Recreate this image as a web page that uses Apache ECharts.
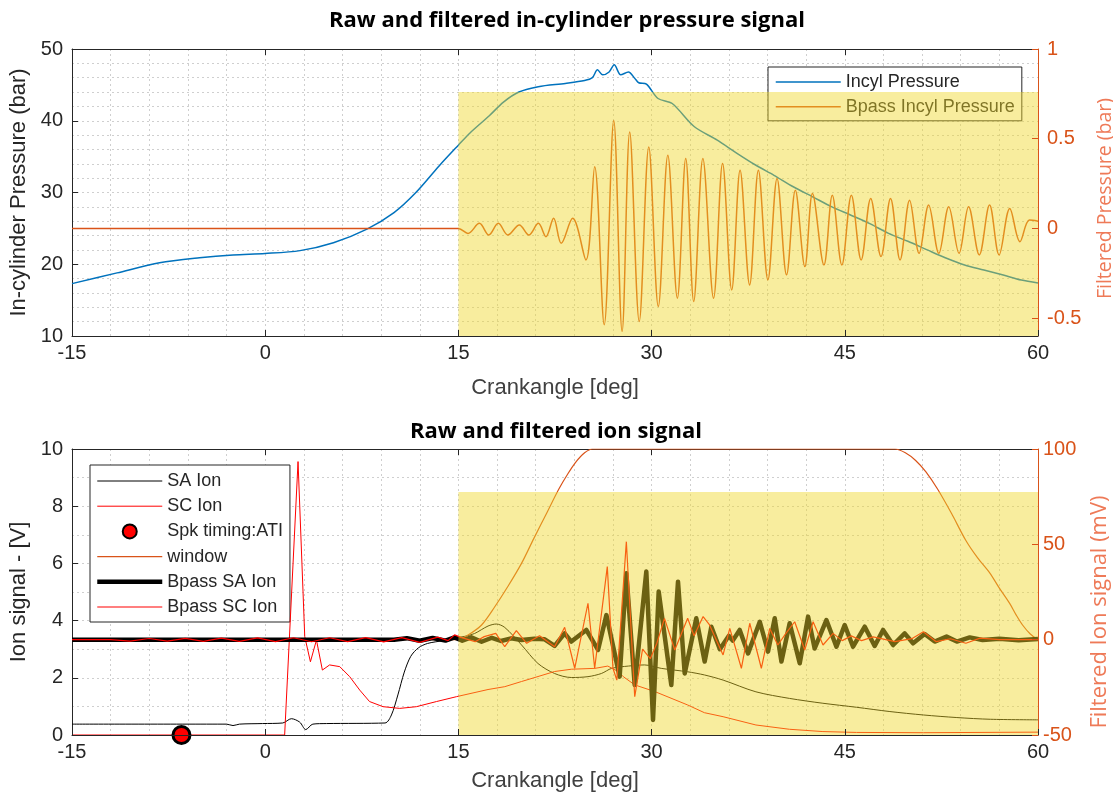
<!DOCTYPE html>
<html>
<head>
<meta charset="utf-8">
<script src="https://cdn.jsdelivr.net/npm/echarts@6/dist/echarts.min.js"></script>
<style>
  html, body { margin: 0; padding: 0; background: #ffffff; }
  #chart { width: 1113px; height: 799px; }
</style>
</head>
<body>
<div id="chart"></div>
<script>
// ---- crank angle axis ----
const crankMin = -15;
const crankMax = 60;
const crankStep = 15;

// ---- raw in-cylinder pressure [deg, bar] ----
const incylPressure = [
  [-15, 17.3], [-11.5, 18.8], [-8.2, 20.2], [-5.1, 20.9], [-2.5, 21.3], [0, 21.5],
  [2.7, 21.9], [5.3, 23.0], [7.9, 24.9], [10, 27.2], [11.7, 30.0], [13.5, 33.7],
  [15, 36.6], [15.9, 38.3], [17.4, 40.7], [18.5, 42.6], [19.7, 44.0], [21.2, 44.75],
  [23.3, 45.2], [24.8, 45.6], [25.4, 46.0], [25.8, 47.1], [26.2, 46.4], [26.7, 46.8],
  [27.1, 47.8], [27.6, 46.4], [28.2, 46.8], [28.7, 45.9], [29.0, 45.3], [29.6, 45.1],
  [30.5, 43.1], [31.6, 42.4], [33.3, 39.2], [35.1, 37.3], [36.6, 35.5], [38.1, 33.8],
  [39.5, 32.4], [41.0, 30.8], [42.5, 29.4], [44.0, 28.0], [45.4, 26.9], [46.9, 25.7],
  [48.4, 24.3], [49.9, 23.2], [51.4, 22.0], [52.8, 20.9], [54.3, 19.9], [55.8, 19.2],
  [57.3, 18.5], [58.7, 17.8], [60, 17.4]
];

// ---- band-pass filtered pressure [deg, bar] ----
const bpassIncylPressure = [
  [-15, 0], [15, 0], [15.74, -0.028], [16.63, 0.028], [17.36, -0.037], [18.10, 0.028],
  [18.84, -0.037], [19.73, 0.019], [20.47, -0.037], [21.21, 0.028], [21.80, -0.046],
  [22.39, 0.056], [22.98, -0.083], [23.87, 0.056], [24.90, -0.176], [25.58, 0.343],
  [26.32, -0.537], [27.06, 0.602], [27.71, -0.574], [28.30, 0.537], [29.04, -0.519],
  [29.78, 0.454], [30.52, -0.435], [31.26, 0.407], [32.00, -0.389], [32.65, 0.389],
  [33.27, -0.407], [33.98, 0.389], [34.81, -0.389], [35.51, 0.361], [36.22, -0.343],
  [36.87, 0.324], [37.61, -0.315], [38.29, 0.324], [39.03, -0.287], [39.74, 0.278],
  [40.48, -0.259], [41.16, 0.213], [41.90, -0.213], [42.49, 0.194], [43.38, -0.204],
  [44.03, 0.185], [44.77, -0.204], [45.51, 0.185], [46.27, -0.176], [47.01, 0.167],
  [47.81, -0.157], [48.55, 0.167], [49.29, -0.176], [50.03, 0.157], [50.77, -0.139],
  [51.51, 0.130], [52.30, -0.139], [53.07, 0.120], [53.87, -0.139], [54.61, 0.120],
  [55.44, -0.148], [56.24, 0.130], [56.98, -0.148], [57.81, 0.111], [58.60, -0.074],
  [59.34, 0.046], [60, 0.04]
];

// ---- raw ion signals [deg, V] ----
const saIon = [
  [-15, 0.38], [-3.0, 0.38], [-2.5, 0.33], [-2.0, 0.38], [-0.2, 0.40], [1.36, 0.42],
  [2.03, 0.57], [2.68, 0.45], [3.15, 0.19], [3.7, 0.38], [4.75, 0.40], [9.3, 0.42],
  [9.8, 0.7], [10.3, 1.4], [10.8, 2.2], [11.3, 2.75], [11.9, 3.05], [12.6, 3.2],
  [13.8, 3.3], [14.85, 3.4], [15.5, 3.45], [16.26, 3.55], [17.3, 3.81], [17.94, 3.88],
  [18.6, 3.76], [19.9, 3.15], [21.18, 2.5], [22.47, 2.15], [23.77, 2.01], [25.06, 2.04],
  [26.1, 2.15], [26.9, 2.33], [28.2, 2.41], [29.46, 2.45], [30.75, 2.33], [32.8, 2.21],
  [34.1, 2.1], [35.55, 1.92], [38.1, 1.51], [40.7, 1.28], [43.3, 1.11], [45.9, 0.97],
  [48.5, 0.82], [51.1, 0.70], [53.7, 0.61], [56.3, 0.55], [60, 0.53]
];

const scIon = [
  [-15, 0], [1.51, 0], [2.55, 9.56], [3.07, 3.44], [3.51, 2.56], [3.98, 3.32],
  [4.44, 2.27], [5.0, 2.45], [5.79, 2.39], [6.56, 2.04], [7.34, 1.57], [8.1, 1.17],
  [9.15, 0.99], [10.44, 0.93], [11.74, 0.99], [13.3, 1.17], [14.85, 1.34], [17.3, 1.59],
  [18.6, 1.69], [19.9, 1.87], [22.47, 2.22], [23.77, 2.30], [25.6, 2.33], [26.6, 2.41],
  [27.4, 2.22], [27.8, 2.04], [28.7, 1.75], [30.24, 1.52], [32.8, 1.05], [34.1, 0.78],
  [35.55, 0.64], [38.1, 0.35], [40.7, 0.2], [43.3, 0.12], [45.9, 0.09], [51.1, 0.08],
  [60, 0.1]
];

// ---- spark timing [deg, V] ----
const spkTiming = [[-6.5, 0]];

// ---- analysis window [deg, mV] ----
const ionWindow = [
  [-15, 0], [15, 0], [15.75, 2.4], [16.8, 7.7], [17.8, 17], [18.85, 28], [19.9, 40],
  [20.85, 53], [21.9, 67], [22.8, 79], [23.5, 87], [24.1, 93], [24.8, 98], [25.4, 100],
  [48.9, 100], [49.7, 98], [50.5, 94], [51.3, 88], [52.2, 79], [53.3, 66], [54.4, 52],
  [55.3, 43], [56.25, 35], [57.0, 27], [57.8, 19], [58.3, 13], [58.8, 7.7], [59.4, 3],
  [60, 0]
];

// ---- band-pass filtered ion signals [deg, mV] ----
const bpassSaIon = [
  [-15, 0], [10, 0], [11, 0.8], [12, -0.6], [13, 0.9], [14, -0.5], [14.7, 1.2],
  [15.3, -0.5], [16.0, 1.2], [16.8, -1.1], [17.6, 1.0], [18.3, -0.7], [19.1, 0.7],
  [19.9, -0.2], [20.9, 0.5], [21.7, 0.2], [22.47, -3.3], [23.25, 3.3], [23.77, -1.0],
  [24.93, 5.1], [25.84, -5.4], [26.49, 12.9], [27.52, -19.4], [28.04, 34.8],
  [28.69, -23.8], [29.59, 35.7], [30.11, -42.1], [30.55, 25.2], [31.53, -23.8],
  [32.05, 30.4], [32.57, -17.7], [33.47, 11.2], [34.12, -11.5], [34.64, 6.8],
  [35.3, -5.0], [36.0, 2.0], [36.3, -0.5], [36.84, 5.1], [37.49, -7.2], [38.4, 9.4],
  [39.04, -6.3], [39.56, 11.2], [40.08, -11.5], [40.72, 8.6], [41.5, -12.4],
  [42.15, 12.1], [42.66, -4.6], [43.57, 10.3], [44.35, -3.7], [44.99, 7.7],
  [45.64, -3.7], [46.55, 6.8], [47.32, -3.3], [47.97, 5.1], [48.75, -2.8],
  [49.65, 3.3], [50.3, -1.9], [51.2, 3.0], [51.98, -1.0], [52.9, 1.6], [53.7, -1.0],
  [54.7, 1.2], [55.7, -0.2], [57, 0.5], [58.5, -0.3], [60, 0.3]
];

const bpassScIon = [
  [-15, 0], [-12, 0], [-10.5, -0.8], [-9, 0.6], [-7.6, -0.8], [-6.2, 0.7], [-4.8, -0.9],
  [-3.4, 0.8], [-2, -0.9], [-0.6, 0.9], [0.8, -1.0], [2.2, 1.0], [3.6, -1.1], [5, 1.0],
  [6.4, -1.0], [7.8, 1.1], [9.2, -1.2], [10.6, 1.1], [12, -1.4], [13.4, 1.3],
  [14.2, -0.5], [14.7, 2.5], [15.2, 1.2], [16.3, -1.05], [17.0, 1.6], [17.9, 3.3],
  [18.6, -3.7], [19.5, 4.7], [20.3, -1.9], [21.3, 2.0], [22.47, -3.7], [23.25, 6.5],
  [24.03, -15.0], [25.06, 19.1], [25.58, -15.0], [26.56, 38.3], [27.0, -15.0],
  [27.3, -21.2], [28.04, 51.4], [28.69, -29.9], [29.3, -5], [29.9, -10], [30.4, -2],
  [31.0, 11.2], [31.8, -5.4], [32.8, 11.2], [33.3, 2], [34.0, 12.1], [34.5, 7.7],
  [35.55, -8.0], [36.07, 5.9], [36.97, -15.0], [37.62, 8.6], [38.52, -15.0],
  [39.17, 5.9], [39.8, -2.8], [40.4, 3.0], [41.11, 9.4], [41.89, -5.4], [42.54, 9.4],
  [43.31, -2.8], [44.09, 3.3], [44.8, -0.5], [45.5, 2.0], [46.3, -0.5], [47.2, 1.5],
  [48.9, -1.05], [50.2, 0.5], [51.1, 4.2], [52.1, -1.05], [53.2, 0.5], [54.4, -1.9],
  [55.5, 0.8], [57, 0], [60, 0]
];

// ---- highlighted analysis region ----
const shadeCrank = [15, 60];
const shadePressure = [10, 44];
const shadeIon = [0, 8.5];

// ---- styling ----
const AXIS_DARK = '#262626';
const ORANGE = '#D95319';
const ORANGE_NAME = '#EE7A58';
const GRID_GRAY = '#cfcfcf';
const SHADE = 'rgba(240, 215, 40, 0.45)';
const SANS = '"Liberation Sans", Arial, sans-serif';
const TITLE_FONT = '"Open Sans", sans-serif';

const gridTop = { left: 72, right: 75, top: 49, height: 287, outerBoundsMode: 'none' };
const gridBottom = { left: 72, right: 75, top: 449, height: 286, outerBoundsMode: 'none' };

const dotted = { color: GRID_GRAY, type: [2, 3], width: 1 };

function crankAxis(gridIndex, withLabels) {
  // bottom axis: labels, ticks and the frame line, drawn above the shading
  return {
    type: 'value', gridIndex, position: 'bottom',
    min: crankMin, max: crankMax, interval: crankStep, z: 20,
    axisLine: { show: true, onZero: false, lineStyle: { color: AXIS_DARK, width: 1 } },
    axisTick: { show: true, inside: true, length: 6, lineStyle: { color: AXIS_DARK } },
    axisLabel: { show: withLabels, color: AXIS_DARK, fontSize: 20, fontFamily: SANS, margin: 7 },
    splitLine: { show: false },
    name: 'Crankangle [deg]', nameLocation: 'middle',
    nameGap: gridIndex === 0 ? 41 : 35,
    nameTextStyle: { color: '#404040', fontSize: 22, fontFamily: SANS }
  };
}

function crankGridAxis(gridIndex) {
  // top frame line plus the vertical grid, drawn beneath the shading
  return {
    type: 'value', gridIndex, position: 'top',
    min: crankMin, max: crankMax, interval: crankStep, z: 0,
    axisLine: { show: true, onZero: false, lineStyle: { color: AXIS_DARK, width: 1 } },
    axisTick: { show: true, inside: true, length: 6, lineStyle: { color: AXIS_DARK } },
    axisLabel: { show: false },
    minorTick: { show: false, splitNumber: 5 },
    splitLine: { show: true, lineStyle: dotted },
    minorSplitLine: { show: true, lineStyle: dotted }
  };
}

function shadeSeries(xAxisIndex, yAxisIndex, yRange) {
  // translucent analysis-region patch laid over the traces
  return {
    type: 'line', xAxisIndex, yAxisIndex, data: [], z: 10, silent: true,
    markArea: {
      silent: true, z: 10, itemStyle: { color: SHADE }, label: { show: false },
      data: [[
        { coord: [shadeCrank[0], yRange[0]] },
        { coord: [shadeCrank[1], yRange[1]] }
      ]]
    }
  };
}

const option = {
  animation: false,
  backgroundColor: '#ffffff',
  graphic: [
    {
      type: 'text', x: 567, y: 21,
      style: {
        text: 'Raw and filtered in-cylinder pressure signal',
        font: 'bold 22px ' + TITLE_FONT, fill: '#000000',
        textAlign: 'center', textVerticalAlign: 'middle'
      }
    },
    {
      type: 'text', x: 556, y: 432,
      style: {
        text: 'Raw and filtered ion signal',
        font: 'bold 22px ' + TITLE_FONT, fill: '#000000',
        textAlign: 'center', textVerticalAlign: 'middle'
      }
    }
  ],
  grid: [gridTop, gridBottom],
  xAxis: [
    crankAxis(0, true), crankGridAxis(0),
    crankAxis(1, true), crankGridAxis(1)
  ],
  yAxis: [
    {
      type: 'value', gridIndex: 0, position: 'left', min: 10, max: 50, interval: 10, z: 0,
      axisLine: { show: true, onZero: false, lineStyle: { color: AXIS_DARK } },
      axisTick: { show: true, inside: true, length: 6, lineStyle: { color: AXIS_DARK } },
      axisLabel: { color: AXIS_DARK, fontSize: 20, fontFamily: SANS, margin: 9 },
      minorTick: { show: false, splitNumber: 5 },
      splitLine: { show: true, lineStyle: dotted },
      minorSplitLine: { show: true, lineStyle: dotted },
      name: 'In-cylinder Pressure (bar)', nameLocation: 'middle', nameGap: 38,
      nameTextStyle: { color: AXIS_DARK, fontSize: 22, fontFamily: SANS }
    },
    {
      type: 'value', gridIndex: 0, position: 'right', min: -0.6, max: 1, z: 20,
      axisLine: { show: true, onZero: false, lineStyle: { color: ORANGE } },
      axisTick: { show: true, inside: true, length: 6, lineStyle: { color: ORANGE },
                  customValues: [-0.5, 0, 0.5, 1] },
      axisLabel: { color: ORANGE, fontSize: 20, fontFamily: SANS, margin: 9,
                   customValues: [-0.5, 0, 0.5, 1] },
      splitLine: { show: false },
      name: 'Filtered Pressure (bar)', nameLocation: 'middle', nameGap: 57,
      nameTextStyle: { color: ORANGE_NAME, fontSize: 19.5, fontFamily: TITLE_FONT,
                       padding: [0, 12, 0, 0] }
    },
    {
      type: 'value', gridIndex: 1, position: 'left', min: 0, max: 10, interval: 2, z: 0,
      axisLine: { show: true, onZero: false, lineStyle: { color: AXIS_DARK } },
      axisTick: { show: true, inside: true, length: 6, lineStyle: { color: AXIS_DARK } },
      axisLabel: { color: AXIS_DARK, fontSize: 20, fontFamily: SANS, margin: 9 },
      minorTick: { show: false, splitNumber: 2 },
      splitLine: { show: true, lineStyle: dotted },
      minorSplitLine: { show: true, lineStyle: dotted },
      name: 'Ion signal - [V]', nameLocation: 'middle', nameGap: 38,
      nameTextStyle: { color: AXIS_DARK, fontSize: 22, fontFamily: SANS }
    },
    {
      type: 'value', gridIndex: 1, position: 'right', min: -50, max: 100, interval: 50, z: 20,
      axisLine: { show: true, onZero: false, lineStyle: { color: ORANGE } },
      axisTick: { show: true, inside: true, length: 6, lineStyle: { color: ORANGE } },
      axisLabel: { color: ORANGE, fontSize: 20, fontFamily: SANS, margin: 5 },
      splitLine: { show: false },
      name: 'Filtered Ion signal (mV)', nameLocation: 'middle', nameGap: 51,
      nameTextStyle: { color: ORANGE_NAME, fontSize: 22, fontFamily: TITLE_FONT,
                       padding: [0, 40, 0, 0] }
    }
  ],
  legend: [
    {
      orient: 'vertical', left: 768, top: 67, z: 3, selectedMode: false,
      backgroundColor: '#ffffff', borderColor: AXIS_DARK, borderWidth: 1, borderRadius: 0,
      padding: [6, 7, 5, 7], itemWidth: 65, itemHeight: 14, itemGap: 6.8,
      textStyle: { color: AXIS_DARK, fontSize: 18, fontFamily: SANS },
      data: [
        { name: 'Incyl Pressure', itemStyle: { opacity: 0 }, lineStyle: { width: 1.5 } },
        { name: 'Bpass Incyl Pressure', itemStyle: { opacity: 0 }, lineStyle: { width: 1.5 } }
      ]
    },
    {
      orient: 'vertical', left: 90, top: 465, z: 3, selectedMode: false,
      backgroundColor: '#ffffff', borderColor: AXIS_DARK, borderWidth: 1, borderRadius: 0,
      padding: [7, 7, 6, 5], itemWidth: 65, itemHeight: 14, itemGap: 7.2,
      textStyle: { color: AXIS_DARK, fontSize: 18, fontFamily: SANS },
      data: [
        { name: 'SA Ion', itemStyle: { opacity: 0 }, lineStyle: { width: 1 } },
        { name: 'SC Ion', itemStyle: { opacity: 0 }, lineStyle: { width: 1 } },
        { name: 'Spk timing:ATI' },
        { name: 'window', itemStyle: { opacity: 0 }, lineStyle: { width: 1.2 } },
        { name: 'Bpass SA Ion', itemStyle: { opacity: 0 }, lineStyle: { width: 4.5 } },
        { name: 'Bpass SC Ion', itemStyle: { opacity: 0 }, lineStyle: { width: 1.2 } }
      ]
    }
  ],
  series: [
    {
      name: 'Incyl Pressure', type: 'line', xAxisIndex: 0, yAxisIndex: 0,
      data: incylPressure, symbol: 'none', smooth: 0.3, color: '#0072BD',
      lineStyle: { color: '#0072BD', width: 1.5 }
    },
    {
      name: 'Bpass Incyl Pressure', type: 'line', xAxisIndex: 0, yAxisIndex: 1,
      data: bpassIncylPressure, symbol: 'none', smooth: 0.35, color: ORANGE,
      lineStyle: { color: ORANGE, width: 1.5 }
    },
    shadeSeries(0, 0, shadePressure),
    {
      name: 'SA Ion', type: 'line', xAxisIndex: 2, yAxisIndex: 2,
      data: saIon, symbol: 'none', smooth: 0.3, color: '#000000',
      lineStyle: { color: '#000000', width: 1 }
    },
    {
      name: 'SC Ion', type: 'line', xAxisIndex: 2, yAxisIndex: 2,
      data: scIon, symbol: 'none', color: '#FF0000',
      lineStyle: { color: '#FF0000', width: 1 }
    },
    {
      name: 'Spk timing:ATI', type: 'scatter', xAxisIndex: 2, yAxisIndex: 2,
      data: spkTiming, symbol: 'circle', symbolSize: 17, clip: false, z: 6,
      itemStyle: { color: '#FF0000', borderColor: '#000000', borderWidth: 3, opacity: 1 }
    },
    {
      name: 'window', type: 'line', xAxisIndex: 2, yAxisIndex: 3,
      data: ionWindow, symbol: 'none', smooth: 0.3, color: ORANGE,
      lineStyle: { color: ORANGE, width: 1.2 }
    },
    {
      name: 'Bpass SA Ion', type: 'line', xAxisIndex: 2, yAxisIndex: 3,
      data: bpassSaIon, symbol: 'none', color: '#000000',
      lineStyle: { color: '#000000', width: 4.5, join: 'round' }
    },
    {
      name: 'Bpass SC Ion', type: 'line', xAxisIndex: 2, yAxisIndex: 3,
      data: bpassScIon, symbol: 'none', color: '#FF0000',
      lineStyle: { color: '#FF0000', width: 1.2 }
    },
    shadeSeries(2, 2, shadeIon)
  ]
};

const chart = echarts.init(document.getElementById('chart'), null, { renderer: 'canvas' });
chart.setOption(option);
</script>
</body>
</html>
